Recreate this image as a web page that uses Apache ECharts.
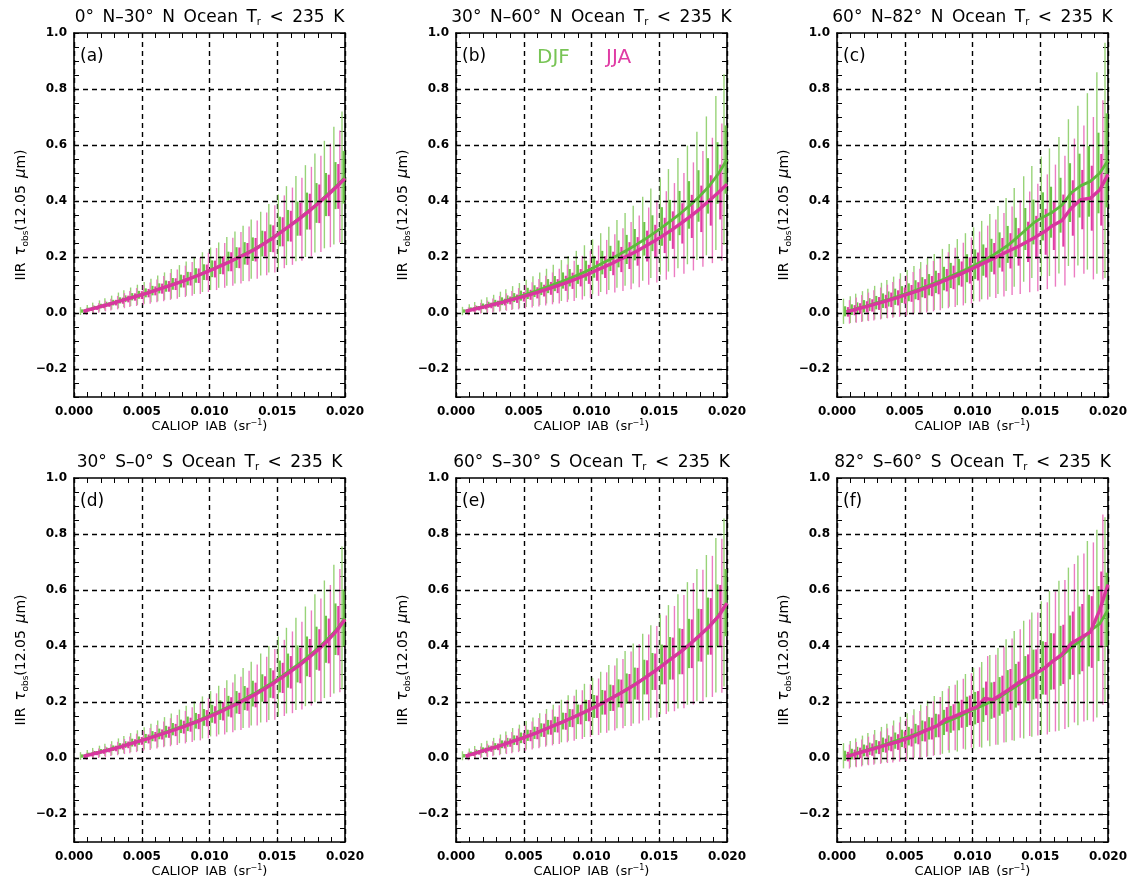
<!DOCTYPE html>
<html>
<head>
<meta charset="utf-8">
<script src="https://cdn.jsdelivr.net/npm/echarts@6/dist/echarts.min.js"></script>
<style>html,body{margin:0;padding:0;background:#fff;}#c{width:1130px;height:884px;}</style>
</head>
<body>
<div id="c"></div>
<script>
// ---------------- DATA ----------------
const xBins = [0.0007,0.0012,0.0016,0.0021,0.0025,0.0030,0.0035,0.0039,0.0044,0.0049,0.0054,0.0059,0.0064,0.0069,0.0074,0.0080,0.0085,0.0091,0.0097,0.0103,0.0109,0.0115,0.0121,0.0127,0.0133,0.0140,0.0146,0.0153,0.0159,0.0166,0.0173,0.0180,0.0187,0.0194,0.0200];

const yGridTicks = [-0.2, 0.0, 0.2, 0.4, 0.6, 0.8];

const regionNames = ['0° N–30° N', '30° N–60° N', '60° N–82° N', '30° S–0° S', '60° S–30° S', '82° S–60° S'];
const panelLetters = ['(a)', '(b)', '(c)', '(d)', '(e)', '(f)'];
const seasonNames = ['DJF', 'JJA'];

// panel (a)
const meanA_DJF = [.007,.013,.019,.025,.031,.037,.045,.051,.058,.065,.072,.080,.088,.096,.104,.114,.123,.134,.146,.158,.171,.184,.198,.213,.228,.248,.267,.291,.312,.337,.364,.393,.423,.455,.485];
const meanA_JJA = [.006,.013,.018,.025,.030,.037,.044,.050,.057,.064,.071,.079,.087,.095,.103,.113,.122,.133,.145,.157,.170,.183,.197,.211,.226,.247,.265,.290,.310,.335,.362,.390,.420,.452,.480];
const sdA_DJF = [.014,.016,.018,.020,.022,.025,.028,.030,.033,.036,.039,.042,.046,.049,.053,.057,.061,.066,.071,.076,.081,.087,.093,.099,.106,.114,.122,.132,.141,.152,.164,.177,.192,.210,.235];
const sdA_JJA = [.013,.015,.017,.019,.021,.024,.027,.029,.032,.035,.038,.041,.045,.048,.052,.056,.060,.065,.070,.075,.080,.086,.092,.098,.104,.112,.120,.130,.138,.148,.160,.172,.185,.200,.215];
const qA_DJF = [.006,.006,.007,.008,.009,.010,.011,.012,.013,.014,.016,.017,.018,.020,.021,.023,.024,.026,.028,.030,.032,.035,.037,.040,.042,.046,.049,.053,.056,.061,.066,.071,.077,.084,.094];
const qA_JJA = [.005,.006,.007,.008,.008,.010,.011,.012,.013,.014,.015,.016,.018,.019,.021,.022,.024,.026,.028,.030,.032,.034,.037,.039,.042,.045,.048,.052,.055,.059,.064,.069,.074,.080,.086];

// panel (b)
const meanB_DJF = [.007,.013,.018,.024,.029,.035,.042,.048,.055,.062,.070,.078,.087,.096,.105,.116,.126,.138,.151,.165,.180,.195,.211,.227,.244,.265,.285,.309,.331,.357,.386,.418,.454,.500,.548];
const meanB_JJA = [.006,.012,.017,.022,.027,.033,.039,.045,.051,.058,.065,.072,.080,.088,.096,.106,.115,.126,.138,.151,.164,.177,.191,.205,.220,.239,.256,.277,.296,.320,.345,.372,.402,.432,.460];
const sdB_DJF = [.015,.018,.021,.024,.027,.030,.034,.037,.041,.045,.049,.053,.058,.062,.067,.073,.078,.084,.091,.098,.105,.113,.121,.130,.139,.150,.160,.172,.183,.197,.212,.229,.248,.275,.305];
const sdB_JJA = [.014,.017,.019,.022,.025,.028,.031,.034,.038,.042,.045,.049,.053,.057,.062,.067,.072,.078,.084,.090,.097,.104,.112,.120,.128,.138,.147,.158,.168,.180,.193,.207,.224,.245,.270];
const qB_DJF = [.006,.007,.008,.010,.011,.012,.014,.015,.016,.018,.020,.021,.023,.025,.027,.029,.031,.034,.036,.039,.042,.045,.048,.052,.056,.060,.064,.069,.073,.079,.085,.092,.099,.110,.122];
const qB_JJA = [.006,.007,.008,.009,.010,.011,.012,.014,.015,.017,.018,.020,.021,.023,.025,.027,.029,.031,.034,.036,.039,.042,.045,.048,.051,.055,.059,.063,.067,.072,.077,.083,.090,.098,.108];

// panel (c)
const meanC_DJF = [.006,.012,.018,.024,.030,.037,.044,.050,.058,.066,.074,.083,.092,.101,.111,.123,.134,.146,.160,.174,.189,.206,.225,.245,.270,.300,.325,.345,.360,.385,.430,.455,.470,.500,.545];
const meanC_JJA = [.004,.010,.016,.022,.027,.034,.041,.047,.054,.062,.070,.078,.087,.096,.105,.117,.127,.139,.152,.166,.180,.194,.208,.222,.236,.254,.270,.290,.312,.330,.375,.405,.410,.440,.495];
const sdC_DJF = [.045,.048,.051,.054,.057,.060,.064,.068,.072,.076,.080,.085,.090,.095,.100,.106,.112,.118,.125,.132,.140,.148,.157,.166,.176,.188,.200,.214,.228,.244,.262,.285,.315,.360,.420];
const sdC_JJA = [.042,.045,.048,.051,.054,.057,.060,.064,.068,.072,.076,.080,.085,.090,.095,.100,.106,.112,.118,.125,.132,.140,.149,.158,.168,.180,.192,.205,.218,.232,.248,.265,.290,.320,.360];
const qC_DJF = [.018,.019,.020,.022,.023,.024,.026,.027,.029,.030,.032,.034,.036,.038,.040,.042,.045,.047,.050,.053,.056,.059,.063,.066,.070,.075,.080,.086,.091,.098,.105,.114,.126,.144,.168];
const qC_JJA = [.017,.018,.019,.020,.022,.023,.024,.026,.027,.029,.030,.032,.034,.036,.038,.040,.042,.045,.047,.050,.053,.056,.060,.063,.067,.072,.077,.082,.087,.093,.099,.106,.116,.128,.144];

// panel (d)
const meanD_DJF = [.007,.013,.018,.024,.029,.035,.042,.048,.055,.062,.070,.078,.086,.094,.103,.113,.122,.133,.145,.158,.171,.185,.199,.214,.230,.250,.268,.291,.312,.336,.363,.392,.424,.460,.500];
const meanD_JJA = [.006,.012,.017,.023,.028,.034,.041,.047,.054,.061,.068,.076,.084,.092,.100,.110,.119,.130,.142,.154,.167,.181,.195,.210,.225,.245,.263,.286,.306,.330,.357,.386,.418,.455,.495];
const sdD_DJF = [.014,.016,.018,.020,.022,.025,.028,.031,.034,.037,.040,.044,.048,.052,.056,.060,.065,.070,.075,.081,.087,.093,.100,.107,.114,.123,.132,.143,.153,.165,.178,.193,.210,.230,.255];
const sdD_JJA = [.013,.015,.017,.019,.021,.024,.027,.030,.033,.036,.039,.042,.046,.050,.054,.058,.062,.067,.072,.077,.083,.089,.095,.102,.109,.117,.126,.136,.146,.157,.170,.184,.200,.220,.240];
const qD_DJF = [.006,.006,.007,.008,.009,.010,.011,.012,.014,.015,.016,.018,.019,.021,.022,.024,.026,.028,.030,.032,.035,.037,.040,.043,.046,.049,.053,.057,.061,.066,.071,.077,.084,.092,.102];
const qD_JJA = [.005,.006,.007,.008,.008,.010,.011,.012,.013,.014,.016,.017,.018,.020,.022,.023,.025,.027,.029,.031,.033,.036,.038,.041,.044,.047,.050,.054,.058,.063,.068,.074,.080,.088,.096];

// panel (e)
const meanE_DJF = [.008,.015,.021,.028,.034,.041,.049,.056,.064,.072,.081,.090,.100,.110,.120,.132,.143,.156,.170,.184,.199,.215,.231,.248,.266,.289,.309,.334,.356,.381,.409,.439,.471,.510,.555];
const meanE_JJA = [.007,.014,.020,.027,.033,.040,.048,.055,.063,.071,.080,.089,.099,.109,.119,.131,.142,.155,.169,.183,.198,.214,.230,.247,.265,.288,.308,.333,.355,.380,.408,.438,.470,.508,.553];
const sdE_DJF = [.016,.019,.022,.025,.028,.031,.035,.039,.043,.047,.051,.055,.060,.065,.070,.076,.081,.088,.095,.102,.109,.117,.125,.134,.143,.155,.165,.178,.190,.204,.219,.236,.254,.276,.300];
const sdE_JJA = [.015,.018,.021,.024,.027,.030,.034,.038,.042,.046,.050,.054,.059,.064,.069,.075,.080,.087,.094,.101,.108,.116,.124,.133,.142,.153,.163,.176,.188,.202,.217,.234,.252,.275,.305];
const qE_DJF = [.006,.008,.009,.010,.011,.012,.014,.016,.017,.019,.020,.022,.024,.026,.028,.030,.032,.035,.038,.041,.044,.047,.050,.054,.057,.062,.066,.071,.076,.082,.088,.094,.102,.110,.120];
const qE_JJA = [.006,.007,.008,.010,.011,.012,.014,.015,.017,.018,.020,.022,.024,.026,.028,.030,.032,.035,.038,.040,.043,.046,.050,.053,.057,.061,.065,.070,.075,.081,.087,.094,.101,.110,.122];

// panel (f)
const meanF_DJF = [.008,.014,.020,.027,.033,.040,.047,.054,.062,.070,.078,.087,.097,.106,.116,.127,.138,.150,.165,.178,.190,.205,.220,.240,.258,.280,.298,.322,.345,.365,.395,.420,.455,.480,.530];
const meanF_JJA = [.005,.012,.018,.025,.030,.037,.044,.050,.057,.065,.073,.083,.095,.105,.115,.138,.145,.158,.170,.182,.213,.208,.226,.245,.266,.287,.300,.320,.345,.370,.410,.430,.450,.530,.620];
const sdF_DJF = [.045,.047,.050,.053,.056,.060,.064,.068,.072,.077,.082,.087,.093,.099,.105,.112,.119,.127,.135,.144,.153,.163,.173,.184,.196,.210,.222,.238,.252,.268,.285,.303,.320,.335,.330];
const sdF_JJA = [.043,.045,.048,.051,.054,.058,.062,.066,.070,.075,.080,.085,.091,.097,.103,.110,.117,.125,.133,.142,.151,.161,.171,.182,.194,.208,.220,.236,.250,.266,.283,.300,.320,.340,.360];
const qF_DJF = [.018,.019,.020,.021,.022,.024,.026,.027,.029,.031,.033,.035,.037,.040,.042,.045,.048,.051,.054,.058,.061,.065,.069,.074,.078,.084,.089,.095,.101,.107,.114,.121,.128,.134,.132];
const qF_JJA = [.017,.018,.019,.020,.022,.023,.025,.026,.028,.030,.032,.034,.036,.039,.041,.044,.047,.050,.053,.057,.060,.064,.068,.073,.078,.083,.088,.094,.100,.106,.113,.120,.128,.136,.144];

// ---------------- ASSEMBLY ----------------
const panels = [
  {djf:[meanA_DJF, sdA_DJF, qA_DJF], jja:[meanA_JJA, sdA_JJA, qA_JJA]},
  {djf:[meanB_DJF, sdB_DJF, qB_DJF], jja:[meanB_JJA, sdB_JJA, qB_JJA]},
  {djf:[meanC_DJF, sdC_DJF, qC_DJF], jja:[meanC_JJA, sdC_JJA, qC_JJA]},
  {djf:[meanD_DJF, sdD_DJF, qD_DJF], jja:[meanD_JJA, sdD_JJA, qD_JJA]},
  {djf:[meanE_DJF, sdE_DJF, qE_DJF], jja:[meanE_JJA, sdE_JJA, qE_JJA]},
  {djf:[meanF_DJF, sdF_DJF, qF_DJF], jja:[meanF_JJA, sdF_JJA, qF_JJA]}
];

const colLeft = [74, 456, 837];
const rowTop = [33, 478];
const gW = 271, gH = 364;

const C = {
  gThin: '#98d378', gThick: '#6cc449', gLine: '#5fb93d', gText: '#78c455',
  mThin: '#ec7cc2', mThick: '#e03ea4', mLine: '#d8369f', mText: '#e03ca4'
};

const FONT = 'DejaVu Sans';
const SP = '\u2002';

const grid = [], xAxis = [], yAxis = [], series = [], graphic = [];

function yLab(v) {
  const k = Math.round(v * 100);
  if (k % 20 !== 0) return '';
  return (k < 0 ? '−' : '') + (Math.abs(k) / 100).toFixed(1);
}
function xLab(v) {
  return (Math.round(v * 1000) / 1000).toFixed(3);
}

function makeRender(dxThin, dxThick, thinColor, thickColor) {
  return function (params, api) {
    const cs = params.coordSys;
    const clampY = y => Math.max(cs.y, Math.min(cs.y + cs.height, y));
    const x = api.value(0), m = api.value(1), sd = api.value(2), q = api.value(3);
    const t = api.coord([x, m + sd]), b = api.coord([x, m - sd]);
    const qt = api.coord([x, m + q]), qb = api.coord([x, m - q]);
    return {
      type: 'group',
      children: [
        {type: 'line', shape: {x1: t[0] + dxThin, y1: clampY(t[1]), x2: t[0] + dxThin, y2: clampY(b[1])},
         style: {stroke: thinColor, lineWidth: 1.4}},
        {type: 'line', shape: {x1: qt[0] + dxThick, y1: clampY(qt[1]), x2: qt[0] + dxThick, y2: clampY(qb[1])},
         style: {stroke: thickColor, lineWidth: 2.1}}
      ]
    };
  };
}

const tickStyle = {show: true, inside: true, length: 5, lineStyle: {color: '#000', width: 1}};
const minorTickStyle = {show: true, splitNumber: 5, length: 5, lineStyle: {color: '#000', width: 1}};
const lineStyleAx = {show: true, onZero: false, lineStyle: {color: '#000', width: 1.6}};
const dashGrid = {show: true, lineStyle: {color: '#000', width: 1.4, type: [5, 4]}};

panels.forEach((p, i) => {
  const col = i % 3, row = Math.floor(i / 3);
  const left = colLeft[col], top = rowTop[row];
  grid.push({left: left, top: top, width: gW, height: gH, containLabel: false});

  // bottom x axis
  xAxis.push({
    type: 'value', gridIndex: i, min: 0, max: 0.02, interval: 0.005, position: 'bottom',
    axisLine: lineStyleAx, axisTick: tickStyle, minorTick: minorTickStyle, splitLine: dashGrid,
    axisLabel: {formatter: xLab, margin: 9, color: '#000', fontFamily: FONT, fontWeight: 'bold', fontSize: 12, showMinLabel: true, showMaxLabel: true},
    name: '{n|CALIOP' + SP + 'IAB' + SP + '(sr}{sup|−1}{n|)}', nameLocation: 'middle', nameGap: 22,
    nameTextStyle: {color: '#000', rich: {
      n: {fontFamily: FONT, fontSize: 13, color: '#000'},
      sup: {fontFamily: FONT, fontSize: 8, color: '#000', padding: [0, 0, 7, 0]}
    }}
  });
  // top x axis
  xAxis.push({
    type: 'value', gridIndex: i, min: 0, max: 0.02, interval: 0.005, position: 'top',
    axisLine: lineStyleAx, axisTick: tickStyle, minorTick: minorTickStyle, splitLine: {show: false}, axisLabel: {show: false}
  });
  // left y axis
  yAxis.push({
    type: 'value', gridIndex: i, min: -0.3, max: 1.0, interval: 0.05, position: 'left',
    axisLine: lineStyleAx, axisTick: tickStyle, splitLine: {show: false},
    axisLabel: {formatter: yLab, margin: 7, color: '#000', fontFamily: FONT, fontWeight: 'bold', fontSize: 12, showMinLabel: true, showMaxLabel: true},
    name: '{n|IIR' + SP + '}{g|τ}{sub|obs}{n|(12.05' + SP + '}{g|μ}{n|m)}', nameLocation: 'middle', nameGap: 44,
    nameTextStyle: {color: '#000', rich: {
      n: {fontFamily: FONT, fontSize: 14, color: '#000'},
      g: {fontFamily: FONT, fontSize: 15, fontStyle: 'italic', color: '#000'},
      sub: {fontFamily: FONT, fontSize: 9, color: '#000', padding: [8, 0, 0, 0]}
    }}
  });
  // right y axis
  yAxis.push({
    type: 'value', gridIndex: i, min: -0.3, max: 1.0, interval: 0.05, position: 'right',
    axisLine: lineStyleAx, axisTick: tickStyle, splitLine: {show: false}, axisLabel: {show: false}
  });

  const xi = 2 * i, yi = 2 * i;

  // dashed horizontal grid lines
  series.push({
    type: 'line', xAxisIndex: xi, yAxisIndex: yi, data: [], silent: true, z: 1,
    markLine: {
      silent: true, symbol: 'none', animation: false,
      label: {show: false},
      lineStyle: {color: '#000', width: 1.4, type: [5, 4]},
      data: yGridTicks.map(v => ({yAxis: v}))
    }
  });

  const mk = (arr) => xBins.map((x, k) => [x, arr[0][k], arr[1][k], arr[2][k]]);
  series.push({
    type: 'custom', xAxisIndex: xi, yAxisIndex: yi, z: 2, clip: true,
    renderItem: makeRender(-3.0, -1.4, C.gThin, C.gThick), data: mk(p.djf)
  });
  series.push({
    type: 'custom', xAxisIndex: xi, yAxisIndex: yi, z: 2, clip: true,
    renderItem: makeRender(3.0, 1.4, C.mThin, C.mThick), data: mk(p.jja)
  });
  series.push({
    type: 'line', xAxisIndex: xi, yAxisIndex: yi, z: 3, symbol: 'none', silent: true,
    lineStyle: {color: C.gLine, width: 2.8}, data: xBins.map((x, k) => [x, p.djf[0][k]])
  });
  series.push({
    type: 'line', xAxisIndex: xi, yAxisIndex: yi, z: 4, symbol: 'none', silent: true,
    lineStyle: {color: C.mLine, width: 3.4}, data: xBins.map((x, k) => [x, p.jja[0][k]])
  });

  // panel title
  graphic.push({
    type: 'text', x: left + gW / 2, y: top - 15,
    style: {
      text: '{n|' + regionNames[i].replace(/ /g, SP) + SP + 'Ocean' + SP + 'T}{s|r}{n|' + SP + '<' + SP + '235' + SP + 'K}',
      textAlign: 'center', textVerticalAlign: 'middle',
      rich: {
        n: {fontFamily: FONT, fontSize: 17, fill: '#000'},
        s: {fontFamily: FONT, fontSize: 10, fill: '#000', padding: [9, 0, 0, 0]}
      }
    }
  });
  // panel letter
  graphic.push({
    type: 'text', x: left + 6, y: top + 24,
    style: {text: panelLetters[i], fontFamily: FONT, fontSize: 17, fill: '#000', textVerticalAlign: 'middle'}
  });
});

// season legend in panel (b)
graphic.push({type: 'text', x: 537, y: 58,
  style: {text: seasonNames[0], fontFamily: FONT, fontSize: 20, fill: C.gText, textVerticalAlign: 'middle'}});
graphic.push({type: 'text', x: 606, y: 58,
  style: {text: seasonNames[1], fontFamily: FONT, fontSize: 20, fill: C.mText, textVerticalAlign: 'middle'}});

const chart = echarts.init(document.getElementById('c'), null, {renderer: 'canvas'});
chart.setOption({
  animation: false,
  backgroundColor: '#fff',
  grid: grid, xAxis: xAxis, yAxis: yAxis, series: series, graphic: graphic
});
</script>
</body>
</html>
